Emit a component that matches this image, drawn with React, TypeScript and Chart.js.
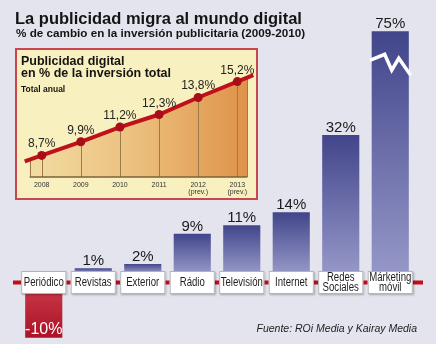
import React, { useEffect, useRef } from 'react';
import { Chart, registerables, LinearScale } from 'chart.js';

// ---------- data ----------
const categories: string[][] = [
  ['Periódico'], ['Revistas'], ['Exterior'], ['Rádio'], ['Televisión'], ['Internet'], ['Redes', 'Sociales'], ['Márketing', 'móvil'],
];
const changeValues = [-10, 1, 2, 9, 11, 14, 32, 75];

const years: string[][] = [['2008'], ['2009'], ['2010'], ['2011'], ['2012', '(prev.)'], ['2013', '(prev.)']];
const digitalShare = [8.7, 9.9, 11.2, 12.3, 13.8, 15.2];

const TITLE = 'La publicidad migra al mundo digital';
const SUBTITLE = '% de cambio en la inversión publicitaria (2009-2010)';
const SOURCE = 'Fuente: ROi Media y Kairay Media';
const INSET_TITLE = ['Publicidad digital', 'en % de la inversión total'];
const INSET_SUB = 'Total anual';

// ---------- broken value axis (axis break above BREAK_AT, stretched negatives) ----------
const BREAK_AT = 40;
const ABOVE_FACTOR = 0.46;
const BELOW_FACTOR = 1.52;
const warp = (v: number) => (v < 0 ? v * BELOW_FACTOR : v > BREAK_AT ? BREAK_AT + (v - BREAK_AT) * ABOVE_FACTOR : v);
const unwarp = (w: number) => (w < 0 ? w / BELOW_FACTOR : w > BREAK_AT ? BREAK_AT + (w - BREAK_AT) / ABOVE_FACTOR : w);

class BrokenLinearScale extends LinearScale {
  static id = 'brokenLinear';
  static defaults = LinearScale.defaults;
  getPixelForValue(value: number) {
    return super.getPixelForValue(warp(value));
  }
  getValueForPixel(pixel: number) {
    return unwarp(super.getValueForPixel(pixel) as number);
  }
}

Chart.register(...registerables, BrokenLinearScale);

const SANS = '"Liberation Sans", Arial, sans-serif';

const fmtPct = (v: number) => `${v}%`;
const fmtShare = (v: number) => `${v.toFixed(1).replace('.', ',')}%`;

// ---------- main chart plugin ----------
const mainPlugin = {
  id: 'mainDecor',
  afterDatasetsDraw(chart: any) {
    const { ctx, chartArea } = chart;
    const meta = chart.getDatasetMeta(0);
    const yScale = chart.scales.y;
    const zero = yScale.getPixelForValue(0);
    const axisY = zero + 10;

    ctx.save();
    // axis break zigzag
    meta.data.forEach((el: any, i: number) => {
      if (changeValues[i] > BREAK_AT) {
        const left = el.x - el.width / 2;
        const w = el.width;
        const t = el.y;
        const pts = [[-0.05, 29], [0.35, 23], [0.54, 39], [0.73, 27], [1.05, 44]];
        ctx.beginPath();
        pts.forEach(([fx, dy], k) => {
          const px = left + fx * w;
          const py = t + dy;
          if (k === 0) ctx.moveTo(px, py);
          else ctx.lineTo(px, py);
        });
        ctx.strokeStyle = '#ffffff';
        ctx.lineWidth = 3.5;
        ctx.lineJoin = 'miter';
        ctx.stroke();
      }
    });

    // red axis line
    ctx.beginPath();
    ctx.moveTo(chartArea.left - 6, axisY);
    ctx.lineTo(chartArea.right + 8, axisY);
    ctx.strokeStyle = '#c20d1c';
    ctx.lineWidth = 4;
    ctx.stroke();

    // label boxes
    meta.data.forEach((el: any, i: number) => {
      const bw = el.width + 8;
      const bh = 23;
      const bx = el.x - bw / 2;
      const by = axisY - bh / 2;
      ctx.save();
      ctx.shadowColor = 'rgba(0,0,0,0.28)';
      ctx.shadowBlur = 2;
      ctx.shadowOffsetX = 1;
      ctx.shadowOffsetY = 1;
      ctx.fillStyle = '#ffffff';
      ctx.fillRect(bx, by, bw, bh);
      ctx.restore();
      ctx.strokeStyle = '#b4b4b4';
      ctx.lineWidth = 1;
      ctx.strokeRect(bx + 0.5, by + 0.5, bw - 1, bh - 1);

      const lines = categories[i];
      ctx.fillStyle = '#1e1e1e';
      ctx.font = `12px ${SANS}`;
      ctx.textAlign = 'center';
      ctx.textBaseline = 'middle';
      const lh = 10;
      lines.forEach((ln, k) => {
        ctx.save();
        ctx.translate(el.x, axisY + (k - (lines.length - 1) / 2) * lh);
        ctx.scale(0.8, 1);
        ctx.fillText(ln, 0, 0);
        ctx.restore();
      });

      // value labels
      const v = changeValues[i];
      ctx.textBaseline = 'alphabetic';
      if (v >= 0) {
        ctx.fillStyle = '#1a1a1a';
        ctx.font = `15px ${SANS}`;
        ctx.fillText(fmtPct(v), el.x, el.y - 3);
      } else {
        ctx.fillStyle = '#ffffff';
        ctx.font = `16px ${SANS}`;
        ctx.fillText(fmtPct(v), el.x, el.y - 4);
      }
    });

    // titles
    ctx.textAlign = 'left';
    ctx.textBaseline = 'alphabetic';
    ctx.fillStyle = '#141414';
    ctx.font = `bold 16.5px ${SANS}`;
    ctx.fillText(TITLE, 15, 24);
    ctx.font = `bold 11.7px ${SANS}`;
    ctx.fillText(SUBTITLE, 16, 37);

    ctx.textAlign = 'right';
    ctx.font = `italic 10.5px ${SANS}`;
    ctx.fillStyle = '#222222';
    ctx.fillText(SOURCE, 417, 332);
    ctx.restore();
  },
};

// ---------- inset chart helpers ----------
const areaGradient = (chart: any) => {
  const { ctx, chartArea } = chart;
  const g = ctx.createLinearGradient(chartArea.left - 12, 0, chartArea.right + 10, 0);
  g.addColorStop(0, '#f2dca3');
  g.addColorStop(0.5, '#ebbf7c');
  g.addColorStop(1, '#df9249');
  return g;
};

const insetPlugin = {
  id: 'insetDecor',
  beforeDatasetsDraw(chart: any) {
    const { ctx, chartArea } = chart;
    const pts = chart.getDatasetMeta(0).data;
    const n = pts.length;
    const bottom = chartArea.bottom;
    const xL = chartArea.left - 12;
    const xR = chartArea.right + 10;
    const p0 = pts[0], p1 = pts[1], pm = pts[n - 2], pn = pts[n - 1];
    const yL = (x: number) => p0.y + ((p1.y - p0.y) / (p1.x - p0.x)) * (x - p0.x);
    const yR = (x: number) => pn.y + ((pn.y - pm.y) / (pn.x - pm.x)) * (x - pn.x);
    ctx.save();
    ctx.fillStyle = areaGradient(chart);
    ctx.beginPath();
    ctx.moveTo(xL, bottom);
    ctx.lineTo(xL, yL(xL));
    ctx.lineTo(p0.x, p0.y);
    ctx.lineTo(p0.x, bottom);
    ctx.closePath();
    ctx.fill();
    ctx.beginPath();
    ctx.moveTo(pn.x, bottom);
    ctx.lineTo(pn.x, pn.y);
    ctx.lineTo(xR, yR(xR));
    ctx.lineTo(xR, bottom);
    ctx.closePath();
    ctx.fill();

    // vertical guide lines
    ctx.strokeStyle = '#9c7a4c';
    ctx.lineWidth = 1;
    const verts: [number, number][] = [[xL, yL(xL)], ...pts.map((p: any) => [p.x, p.y] as [number, number]), [xR, yR(xR)]];
    verts.forEach(([x, y]) => {
      ctx.beginPath();
      ctx.moveTo(Math.round(x) + 0.5, y);
      ctx.lineTo(Math.round(x) + 0.5, bottom);
      ctx.stroke();
    });
    ctx.strokeStyle = '#7d6238';
    ctx.lineWidth = 1.5;
    ctx.beginPath();
    ctx.moveTo(xL, bottom);
    ctx.lineTo(xR, bottom);
    ctx.stroke();

    // line extensions
    ctx.strokeStyle = '#bf111c';
    ctx.lineWidth = 4;
    ctx.beginPath();
    ctx.moveTo(xL - 5, yL(xL - 5));
    ctx.lineTo(p0.x, p0.y);
    ctx.moveTo(pn.x, pn.y);
    ctx.lineTo(xR + 6, yR(xR + 6));
    ctx.stroke();
    ctx.restore();
  },
  afterDatasetsDraw(chart: any) {
    const { ctx } = chart;
    const pts = chart.getDatasetMeta(0).data;
    ctx.save();
    ctx.fillStyle = '#222222';
    ctx.font = `12px ${SANS}`;
    ctx.textAlign = 'center';
    ctx.textBaseline = 'alphabetic';
    pts.forEach((p: any, i: number) => {
      ctx.fillText(fmtShare(digitalShare[i]), p.x, p.y - 8);
    });
    ctx.textAlign = 'left';
    ctx.fillStyle = '#141414';
    ctx.font = `bold 12.5px ${SANS}`;
    ctx.fillText(INSET_TITLE[0], 4, 15);
    ctx.fillText(INSET_TITLE[1], 4, 26.5);
    ctx.font = `bold 8.5px ${SANS}`;
    ctx.fillText(INSET_SUB, 4, 41.7);
    ctx.restore();
  },
};

export default function App() {
  const mainRef = useRef<HTMLCanvasElement>(null);
  const insetRef = useRef<HTMLCanvasElement>(null);

  useEffect(() => {
    document.body.style.margin = '0';
    const main = new Chart(mainRef.current as HTMLCanvasElement, {
      type: 'bar',
      data: {
        labels: categories,
        datasets: [
          {
            data: changeValues,
            barPercentage: 0.75,
            categoryPercentage: 1,
            borderWidth: 0,
            backgroundColor: (c: any) => {
              const chart = c.chart;
              const y = chart.scales && chart.scales.y;
              if (!chart.chartArea || !y || c.raw === undefined) return '#5a5e9c';
              const top = y.getPixelForValue(c.raw);
              const base = y.getPixelForValue(0);
              const ctx = chart.ctx;
              if (c.raw >= 0) {
                const g = ctx.createLinearGradient(0, top, 0, base);
                g.addColorStop(0, '#41458a');
                g.addColorStop(1, '#9597c7');
                return g;
              }
              const g = ctx.createLinearGradient(0, base, 0, top);
              g.addColorStop(0, '#cf4453');
              g.addColorStop(1, '#ad1126');
              return g;
            },
          },
        ],
      },
      options: {
        animation: false,
        responsive: true,
        maintainAspectRatio: false,
        events: [],
        layout: { padding: { left: 19, right: 21, top: 0, bottom: 0 } },
        plugins: { legend: { display: false }, tooltip: { enabled: false } },
        scales: {
          x: { display: false },
          y: { type: 'brokenLinear' as any, display: false, min: -16.63, max: 63.37 },
        },
      },
      plugins: [mainPlugin],
    });

    const inset = new Chart(insetRef.current as HTMLCanvasElement, {
      type: 'line',
      data: {
        labels: years,
        datasets: [
          {
            data: digitalShare,
            borderColor: '#bf111c',
            borderWidth: 4,
            pointRadius: 4.5,
            pointBackgroundColor: '#a80d18',
            pointBorderWidth: 0,
            tension: 0,
            fill: 'start',
            backgroundColor: (c: any) => (c.chart.chartArea ? areaGradient(c.chart) : '#eab46f'),
          },
        ],
      },
      options: {
        animation: false,
        responsive: true,
        maintainAspectRatio: false,
        events: [],
        layout: { padding: { left: 24.7, right: 18.7, top: 10, bottom: -2 } },
        plugins: {
          legend: { display: false },
          tooltip: { enabled: false },
          filler: { drawTime: 'beforeDatasetsDraw' } as any,
        },
        scales: {
          x: {
            offset: false,
            grid: { display: false, drawTicks: false },
            border: { display: false },
            ticks: {
              font: { family: SANS, size: 7, lineHeight: 1 },
              color: '#333333',
              padding: 4.5,
              maxRotation: 0,
              autoSkip: false,
            },
          },
          y: { display: false, min: 6.8, max: 17.1 },
        },
      },
      plugins: [insetPlugin],
    });

    return () => {
      main.destroy();
      inset.destroy();
    };
  }, []);

  return (
    <div style={{ position: 'absolute', left: 0, top: 0, width: 436, height: 344, background: '#e4e4ee', overflow: 'hidden' }}>
      <div style={{ position: 'absolute', left: 0, top: 0, width: 436, height: 344 }}>
        <canvas ref={mainRef} />
      </div>
      <div
        style={{
          position: 'absolute',
          left: 15,
          top: 48,
          width: 239,
          height: 148,
          border: '2px solid #c9464f',
          background: '#f8f0be',
        }}
      >
        <div style={{ position: 'relative', width: 239, height: 148 }}>
          <canvas ref={insetRef} />
        </div>
      </div>
    </div>
  );
}
